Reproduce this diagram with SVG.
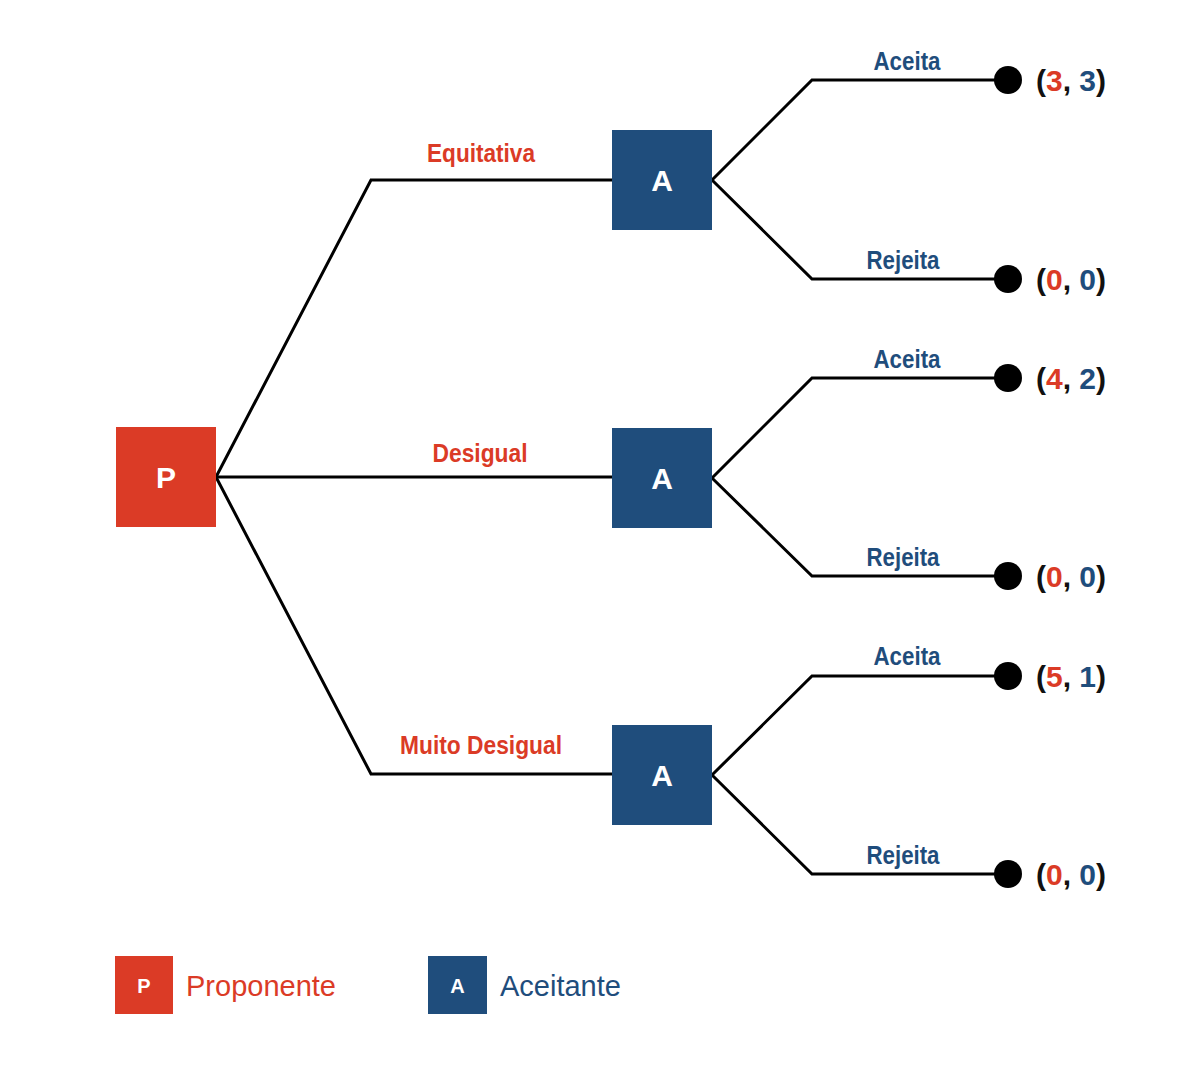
<svg xmlns="http://www.w3.org/2000/svg" width="1200" height="1080" viewBox="0 0 1200 1080">
<style>
.p{fill:#DB3B26}
.a{fill:#1F4D7C}
.nl{fill:#fff;font-family:"Liberation Sans",Arial,sans-serif;font-weight:bold;font-size:30px;text-anchor:middle}
.e{fill:none;stroke:#000;stroke-width:3;stroke-linejoin:miter}
.lbl{font-family:"Liberation Sans",Arial,sans-serif;font-weight:bold;font-size:26px;text-anchor:middle}
.lr{fill:#DB3B26}
.lb{fill:#1F4D7C}
.pay{font-family:"Liberation Sans",Arial,sans-serif;font-weight:bold;font-size:30px;fill:#111}
.leg{font-family:"Liberation Sans",Arial,sans-serif;font-size:29px}
</style>
<rect width="1200" height="1080" fill="#fff"/>
<g id="connectors">
<path class="e" d="M216,477 L371,180 L612,180"/>
<path class="e" d="M216,477 L612,477"/>
<path class="e" d="M216,477 L371,774 L612,774"/>
<path class="e" d="M712,180 L812,80 L1008,80"/>
<path class="e" d="M712,180 L812,279 L1008,279"/>
<path class="e" d="M712,478 L812,378 L1008,378"/>
<path class="e" d="M712,478 L812,576 L1008,576"/>
<path class="e" d="M712,775 L812,676 L1008,676"/>
<path class="e" d="M712,775 L812,874 L1008,874"/>
<text class="lbl lr" x="481" y="162" textLength="108" lengthAdjust="spacingAndGlyphs">Equitativa</text>
<text class="lbl lr" x="480" y="462" textLength="95" lengthAdjust="spacingAndGlyphs">Desigual</text>
<text class="lbl lr" x="481" y="754" textLength="162" lengthAdjust="spacingAndGlyphs">Muito Desigual</text>
<text class="lbl lb" x="907" y="70" textLength="67" lengthAdjust="spacingAndGlyphs">Aceita</text>
<text class="lbl lb" x="903" y="269" textLength="73" lengthAdjust="spacingAndGlyphs">Rejeita</text>
<text class="lbl lb" x="907" y="368" textLength="67" lengthAdjust="spacingAndGlyphs">Aceita</text>
<text class="lbl lb" x="903" y="566" textLength="73" lengthAdjust="spacingAndGlyphs">Rejeita</text>
<text class="lbl lb" x="907" y="665" textLength="67" lengthAdjust="spacingAndGlyphs">Aceita</text>
<text class="lbl lb" x="903" y="864" textLength="73" lengthAdjust="spacingAndGlyphs">Rejeita</text>
</g>
<g id="P"><rect class="p" x="116" y="427" width="100" height="100"/><text class="nl" x="166" y="488">P</text></g>
<g id="A1"><rect class="a" x="612" y="130" width="100" height="100"/><text class="nl" x="662" y="191">A</text></g>
<g id="A2"><rect class="a" x="612" y="428" width="100" height="100"/><text class="nl" x="662" y="489">A</text></g>
<g id="A3"><rect class="a" x="612" y="725" width="100" height="100"/><text class="nl" x="662" y="786">A</text></g>
<g id="T1"><circle cx="1008" cy="80" r="14"/><text class="pay" x="1036" y="91">(<tspan class="lr">3</tspan>, <tspan class="lb">3</tspan>)</text></g>
<g id="T2"><circle cx="1008" cy="279" r="14"/><text class="pay" x="1036" y="290">(<tspan class="lr">0</tspan>, <tspan class="lb">0</tspan>)</text></g>
<g id="T3"><circle cx="1008" cy="378" r="14"/><text class="pay" x="1036" y="389">(<tspan class="lr">4</tspan>, <tspan class="lb">2</tspan>)</text></g>
<g id="T4"><circle cx="1008" cy="576" r="14"/><text class="pay" x="1036" y="587">(<tspan class="lr">0</tspan>, <tspan class="lb">0</tspan>)</text></g>
<g id="T5"><circle cx="1008" cy="676" r="14"/><text class="pay" x="1036" y="687">(<tspan class="lr">5</tspan>, <tspan class="lb">1</tspan>)</text></g>
<g id="T6"><circle cx="1008" cy="874" r="14"/><text class="pay" x="1036" y="885">(<tspan class="lr">0</tspan>, <tspan class="lb">0</tspan>)</text></g>
<g id="legend">
<rect class="p" x="115" y="956" width="58" height="58"/><text class="nl" x="144" y="993" style="font-size:20px">P</text>
<text class="leg lr" x="186" y="996">Proponente</text>
<rect class="a" x="428" y="956" width="59" height="58"/><text class="nl" x="457.5" y="993" style="font-size:20px">A</text>
<text class="leg lb" x="500" y="996">Aceitante</text>
</g>
</svg>
